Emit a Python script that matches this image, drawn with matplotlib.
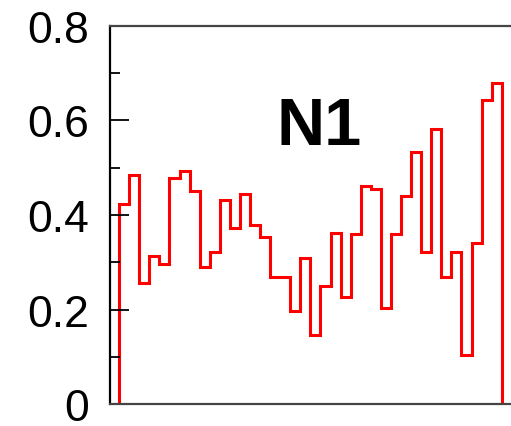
import matplotlib
matplotlib.use('Agg')
import matplotlib.pyplot as plt
import numpy as np

# step histogram values (38 bins)
values = [0.423, 0.485, 0.257, 0.314, 0.296, 0.478, 0.493, 0.451, 0.291, 0.321,
          0.431, 0.373, 0.444, 0.379, 0.353, 0.268, 0.268, 0.196, 0.310, 0.146,
          0.250, 0.361, 0.226, 0.360, 0.462, 0.455, 0.203, 0.360, 0.440, 0.534,
          0.322, 0.582, 0.268, 0.321, 0.104, 0.341, 0.644, 0.679]
edges = np.arange(len(values) + 1)
yticks = [0, 0.2, 0.4, 0.6, 0.8]
ytick_labels = ['0', '0.2', '0.4', '0.6', '0.8']
yminor = [0.1, 0.3, 0.5, 0.7]
label = 'N1'

fig = plt.figure(figsize=(5.11, 4.27), dpi=100)
ax = fig.add_axes([0.2153, 0.0515, 0.806, 0.8853])

ax.stairs(values, edges, baseline=0, color='red', linewidth=2.2)

ax.set_xlim(-0.9, 40)
ax.set_ylim(0, 0.8)
ax.set_yticks(yticks)
ax.set_yticklabels(ytick_labels, fontfamily='Liberation Sans', fontsize=32)
ax.set_yticks(yminor, minor=True)
ax.tick_params(axis='y', which='major', direction='in', length=14, width=1.3, pad=15)
ax.tick_params(axis='y', which='minor', direction='in', length=7, width=1.3)
ax.set_xticks([])

ax.spines['right'].set_visible(False)
ax.spines['left'].set_linewidth(1.6)
ax.spines['left'].set_color('black')
for s in ['top', 'bottom']:
    ax.spines[s].set_linewidth(1.6)
    ax.spines[s].set_color('#444444')

ax.text(19.9, 0.55, label, fontfamily='Liberation Sans', fontweight='bold',
        fontsize=48, ha='center', va='baseline')

fig.savefig('out.png', dpi=100)
